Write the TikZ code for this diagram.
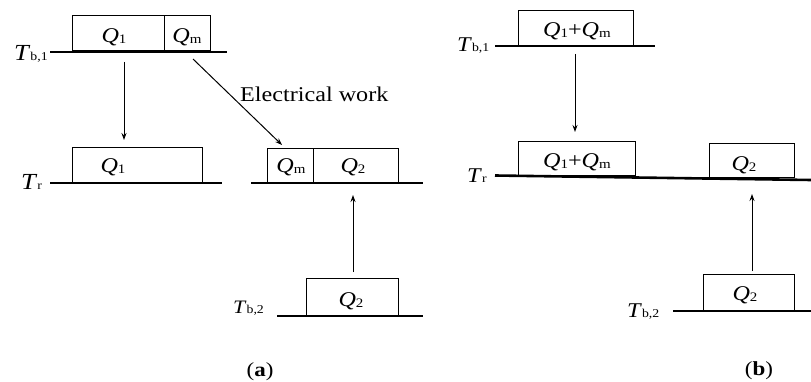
\documentclass[tikz,border=0pt]{standalone}
\usepackage{fontspec}
\setmainfont{Liberation Serif}
\usetikzlibrary{arrows.meta}
\newcommand{\sx}[1]{\scalebox{1.15}[1]{#1}}
\newcommand{\sbs}[1]{\raisebox{-1pt}{\fontsize{13}{13}\selectfont #1}}
\newcommand{\QQ}[1]{\textit{Q}\sbs{#1}}
\newcommand{\TT}[1]{\textit{T}{\fontsize{12}{12}\selectfont #1}}
\begin{document}
\begin{tikzpicture}[x=1pt,y=-1pt,
  font=\fontsize{21}{24}\selectfont,
  box/.style={draw, line width=1.1pt, inner sep=0pt, anchor=south west},
  lvl/.style={line width=2.6pt},
  arr/.style={line width=1pt, -{Stealth[length=7pt,width=5pt]}},
  txt/.style={inner sep=0pt, anchor=base},
  lbl/.style={inner sep=0pt, anchor=base west},
  big/.style={font=\fontsize{23}{24}\selectfont},
  mid/.style={font=\fontsize{21}{24}\selectfont},
  sml/.style={font=\fontsize{19}{24}\selectfont},
  captxt/.style={inner sep=0pt, anchor=base, font=\fontsize{20}{24}\selectfont}]
\useasboundingbox (0,0) rectangle (811,382);
% ---------------- (a) ----------------
\coordinate (a1l) at (50,52); \coordinate (a1r) at (227,52);
\coordinate (a2l) at (50,183); \coordinate (a2r) at (222,183);
\coordinate (a3l) at (251,183); \coordinate (a3r) at (423,183);
\coordinate (a4l) at (277,316); \coordinate (a4r) at (423,316);
\node[box, minimum width=92pt, minimum height=35pt] (aq1) at (72,51) {};
\node[box, minimum width=46pt, minimum height=35pt] (aqm) at (164,51) {};
\node[box, minimum width=130pt, minimum height=35pt] (arq1) at (72,183) {};
\node[box, minimum width=46pt, minimum height=34pt] (arqm) at (267,183) {};
\node[box, minimum width=85pt, minimum height=34pt] (arq2) at (313,183) {};
\node[box, minimum width=92pt, minimum height=37pt] (abq2) at (306,316) {};
\draw[lvl] (a1l) -- (a1r);
\draw[lvl] (a2l) -- (a2r);
\draw[lvl] (a3l) -- (a3r);
\draw[lvl] (a4l) -- (a4r);
\node[txt] (tq1) at (114,42.5) {\sx{\QQ{1}}};
\node[txt] (tqm) at (187,42.5) {\sx{\QQ{m}}};
\node[txt] (trq1) at (113,173) {\sx{\QQ{1}}};
\node[txt] (trqm) at (291,173) {\sx{\QQ{m}}};
\node[txt] (trq2) at (353,173) {\sx{\QQ{2}}};
\node[txt] (tbq2) at (351,306) {\sx{\QQ{2}}};
\node[lbl, big] (lab1) at (14,61) {\sx{\TT{b,1}}};
\node[lbl, big] (lar) at (21,190) {\sx{\TT{r}}};
\node[lbl, sml] (lab2) at (233,313.5) {\sx{\TT{b,2}}};
\node[lbl] (lew) at (240,101.5) {\sx{Electrical work}};
\node[captxt] (capa) at (260,376) {\sx{(\textbf{a})}};
\coordinate (s1) at (124,62); \coordinate (e1) at (124,140);
\coordinate (s2) at (193,59); \coordinate (e2) at (282,145);
\coordinate (s3) at (353,272); \coordinate (e3) at (353,195);
\draw[arr] (s1) -- (e1);
\draw[arr] (s2) -- (e2);
\draw[arr] (s3) -- (e3);
% ---------------- (b) ----------------
\coordinate (b1l) at (495,46); \coordinate (b1r) at (655,46);
\coordinate (b2l) at (495,175.5); \coordinate (b2r) at (811,180);
\coordinate (b4l) at (673,311); \coordinate (b4r) at (811,311);
\node[box, minimum width=115pt, minimum height=35pt] (bq1m) at (518,46) {};
\node[box, minimum width=117pt, minimum height=34pt] (brq1m) at (518,176) {};
\node[box, minimum width=85pt, minimum height=34pt] (brq2) at (709,178.5) {};
\node[box, minimum width=91pt, minimum height=36pt] (bbq2) at (703,311) {};
\draw[lvl] (b1l) -- (b1r);
\draw[lvl] (b2l) -- (b2r);
\draw[lvl] (b4l) -- (b4r);
\node[txt] (tb1) at (577,37) {\sx{\QQ{1}+\QQ{m}}};
\node[txt] (tb2) at (577,168) {\sx{\QQ{1}+\QQ{m}}};
\node[txt] (tb3) at (744,171) {\sx{\QQ{2}}};
\node[txt] (tb4) at (745,300.5) {\sx{\QQ{2}}};
\node[lbl, mid] (lbb1) at (457,52) {\sx{\TT{b,1}}};
\node[lbl, mid] (lbr) at (467,183) {\sx{\TT{r}}};
\node[lbl, mid] (lbb2) at (627,317) {\sx{\TT{b,2}}};
\node[captxt] (capb) at (759,375) {\sx{(\textbf{b})}};
\coordinate (s4) at (575,54); \coordinate (e4) at (575,132);
\coordinate (s5) at (752,271); \coordinate (e5) at (752,194);
\draw[arr] (s4) -- (e4);
\draw[arr] (s5) -- (e5);
\end{tikzpicture}
\end{document}
